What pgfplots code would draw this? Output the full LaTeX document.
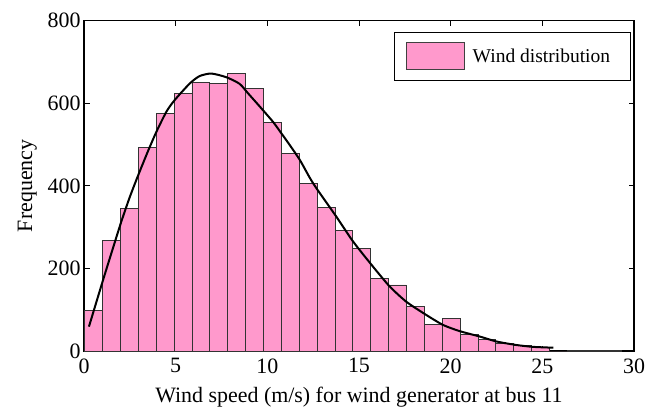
\documentclass[border=0pt]{standalone}
\usepackage{pgfplots}
\pgfplotsset{compat=1.18}
\usepackage{fontspec}
\setmainfont{Liberation Serif}
\definecolor{windpink}{RGB}{255,153,204}

% histogram of wind speeds: left bin edge and count (last row closes the final bin)
\pgfplotstableread{
x y
0.040 98
1.015 268
1.990 345
2.965 493
3.940 576
4.915 623
5.890 651
6.865 648
7.840 672
8.815 636
9.790 554
10.765 478
11.740 406
12.715 347
13.690 291
14.665 248
15.640 175
16.615 160
17.590 107
18.565 64
19.540 79
20.515 39
21.490 28
22.465 19
23.440 14
24.415 9
25.390 0
26.365 2
27.340 2
28.315 2
29.290 2
}\windhist

% fitted density, scaled to counts
\pgfplotstableread{
x y
0.27 59
1.04 172
1.67 262
2.04 314
2.49 372
2.95 425
3.49 484
3.95 531
4.50 580
4.95 608
5.77 648
6.31 666
6.95 672
7.77 663
8.49 647
8.95 624
9.59 592
10.31 555
10.77 527
11.22 499
11.77 463
12.31 420
12.68 394
13.77 325
14.68 265
15.77 204
16.68 156
17.59 119
18.68 87
19.59 63
20.50 48
21.59 35
22.50 23
23.59 14.5
24.50 10
25.60 8
}\windfit

\begin{document}
\begin{tikzpicture}
\begin{axis}[
  scale only axis, width=550bp, height=330.3bp,
  xmin=0, xmax=30, ymin=0, ymax=800,
  xtick={0,5,...,30}, ytick={0,200,...,800},
  tick align=inside, major tick length=5.5bp,
  axis line style={line width=1.2bp},
  every tick/.style={black, line width=1bp},
  /pgf/number format/assume math mode=true,
  tick label style={font=\fontsize{22}{26}\selectfont},
  label style={font=\fontsize{22}{26}\selectfont},
  xticklabel shift=4bp,
  xlabel shift=7bp,
  ylabel shift=4bp,
  xlabel={Wind speed (m/s) for wind generator at bus 11},
  ylabel={Frequency},
  legend style={at={(0.994,0.9667)}, anchor=north east, draw=black,
    line width=1bp, font=\fontsize{19.6}{23}\selectfont,
    nodes={inner sep=0bp}, inner xsep=11bp, inner ysep=10bp,
    /tikz/every odd column/.style={column sep=8.3bp}},
  legend image code/.code={\draw[fill=windpink, draw=black!75, line width=0.8bp]
    (0bp,-13.5bp) rectangle (58bp,13.5bp);},
]
\addplot[ybar interval, fill=windpink, draw=black!80, line width=0.8bp]
  table[x=x, y=y] {\windhist};
\addlegendentry{Wind distribution\kern9bp}
\addplot[black, line width=2bp, smooth, tension=0.4, forget plot]
  table[x=x, y=y] {\windfit};
\end{axis}
\pgfresetboundingbox
\path (-84bp,-60bp) rectangle (578bp,351bp);
\end{tikzpicture}
\end{document}
